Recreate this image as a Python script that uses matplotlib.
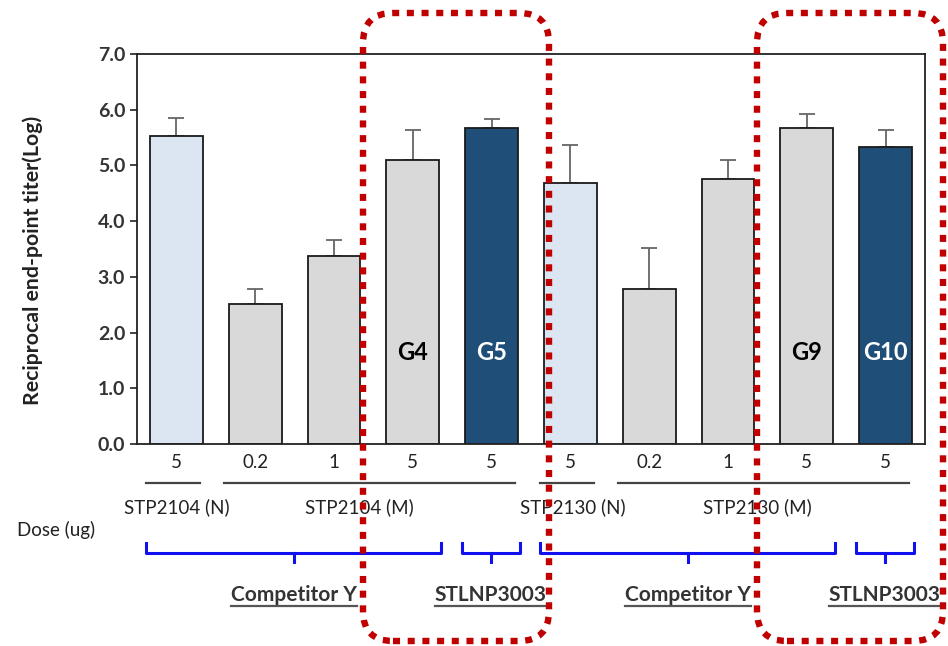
import matplotlib
matplotlib.use('Agg')
import matplotlib.pyplot as plt
from matplotlib.patches import FancyBboxPatch
from matplotlib.transforms import IdentityTransform, blended_transform_factory

# data
doses = ['5', '0.2', '1', '5', '5', '5', '0.2', '1', '5', '5']
titer = [5.52, 2.52, 3.37, 5.09, 5.67, 4.68, 2.78, 4.76, 5.67, 5.33]
titer_err = [0.34, 0.26, 0.29, 0.55, 0.17, 0.68, 0.73, 0.34, 0.25, 0.31]
kind = ['N', 'M', 'M', 'M', 'S', 'N', 'M', 'M', 'M', 'S']

products = ['STP2104 (N)', 'STP2104 (M)', 'STP2130 (N)', 'STP2130 (M)']
product_spans = [(0, 0), (1, 4), (5, 5), (6, 9)]
companies = ['Competitor Y', 'STLNP3003', 'Competitor Y', 'STLNP3003']
company_spans = [(0, 3), (4, 4), (5, 8), (9, 9)]
group_names = {3: 'G4', 4: 'G5', 8: 'G9', 9: 'G10'}

W, H = 948, 646
plt.rcParams['font.family'] = ['Lato', 'DejaVu Sans']

fill = {'N': '#dce6f2', 'M': '#d9d9d9', 'S': '#1f4e79'}

fig = plt.figure(figsize=(W / 100, H / 100), dpi=100)
ax = fig.add_axes([137 / W, 1 - 444 / H, (925 - 137) / W, (444 - 54) / H])

x = list(range(len(titer)))
ax.bar(x, titer, width=0.67, color=[fill[k] for k in kind],
       edgecolor='#1a1a1a', linewidth=1.3, zorder=2)
ax.errorbar(x, titer, yerr=[[0] * len(titer), titer_err], fmt='none',
            ecolor='#666666', elinewidth=1.3, capsize=6, capthick=1.3, zorder=1)

for i, name in group_names.items():
    c = 'white' if kind[i] == 'S' else 'black'
    ax.text(i, 1.65, name, ha='center', va='center', fontsize=17,
            fontweight='bold', color=c, zorder=3)

ax.set_xlim(-0.5, 9.5)
ax.set_ylim(0, 7)
ax.set_yticks([0, 1, 2, 3, 4, 5, 6, 7])
ax.set_yticklabels([f'{v:.1f}' for v in range(8)], fontsize=14, fontweight='bold')
ax.set_xticks([])
ax.tick_params(axis='y', direction='out', length=5, width=1.2, colors='#222222',
               labelcolor='#333333')
for s in ax.spines.values():
    s.set_linewidth(1.3)
    s.set_color('#222222')
ax.set_ylabel('Reciprocal end-point titer(Log)', fontsize=15.3,
              fontweight='bold', color='#222222')
ax.yaxis.set_label_coords(-0.119, 0.47)

# x in data, y in pixels from top of the image
tr = blended_transform_factory(ax.transData, IdentityTransform())
def yp(v):
    return H - v

for i, d in enumerate(doses):
    fig.text(i, yp(463), d, transform=tr, ha='center', va='center', fontsize=13.5,
             color='#222222')

label_x = [0, 2.32, 5.03, 7.37]
for (a, b), name, lx in zip(product_spans, products, label_x):
    fig.add_artist(plt.Line2D([a - 0.39, b + 0.3], [yp(483), yp(483)],
                              transform=tr, color='#444444', lw=1.6))
    fig.text(lx, yp(507), name, transform=tr, ha='center', va='center', fontsize=13.5,
             color='#222222')

fig.text(56, yp(530), 'Dose (ug)', transform=IdentityTransform(),
         ha='center', va='center', fontsize=13.5, color='#222222')

for (a, b), name in zip(company_spans, companies):
    x0, x1 = a - 0.38, b + 0.36
    xm = (x0 + x1) / 2
    fig.add_artist(plt.Line2D([x0, x0, x1, x1], [yp(543), yp(553), yp(553), yp(543)],
                              transform=tr, color='#1010f0', lw=2.2))
    fig.add_artist(plt.Line2D([xm, xm], [yp(553), yp(562)],
                              transform=tr, color='#1010f0', lw=2.2))
    t = fig.text(xm, yp(595), name, transform=tr, ha='center', va='center',
                 fontsize=15, fontweight='bold', color='#333333')
    fig.canvas.draw()
    bb = t.get_window_extent()
    fig.add_artist(plt.Line2D([bb.x0, bb.x1], [yp(606), yp(606)],
                              transform=IdentityTransform(), color='#555555', lw=1.6))

# red dotted highlight boxes (pixel coords)
for left, right in [(363, 549), (757, 943)]:
    box = FancyBboxPatch((left, yp(641)), right - left, 641 - 13,
                         boxstyle='round,pad=0,rounding_size=30',
                         transform=IdentityTransform(), fill=False,
                         edgecolor='#c00000', linewidth=4.6,
                         linestyle=(0, (1.1, 1.2)), capstyle='butt', zorder=10)
    fig.add_artist(box)

fig.savefig('out.png', dpi=100)
